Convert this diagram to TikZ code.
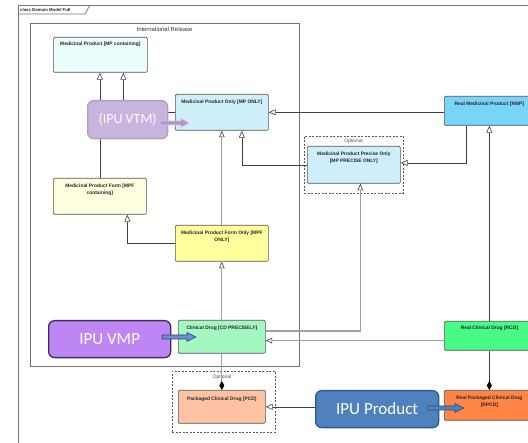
\documentclass[tikz,border=0pt]{standalone}
\usepackage{fontspec}
\setmainfont{Liberation Sans}
\newfontfamily\calfont{Carlito}
\usetikzlibrary{arrows.meta,calc}
\definecolor{cMPC}{HTML}{EAFCFC}
\definecolor{cMPO}{HTML}{CFEFFB}
\definecolor{cMPFC}{HTML}{FFFEE0}
\definecolor{cMPFO}{HTML}{FFFF9E}
\definecolor{cCD}{HTML}{A3F8C0}
\definecolor{cMPP}{HTML}{CDEEFA}
\definecolor{cRMP}{HTML}{79D5F7}
\definecolor{cRCD}{HTML}{47FB85}
\definecolor{cRPCD}{HTML}{FF8446}
\definecolor{cPCD}{HTML}{FFC3A3}
\definecolor{boxline}{HTML}{555555}
\definecolor{lineDark}{HTML}{404040}
\definecolor{lineGray}{HTML}{A0A0A0}
\definecolor{frameC}{HTML}{757575}
\definecolor{vtmFill}{HTML}{C8B4DC}
\definecolor{vtmLine}{HTML}{B49CCB}
\definecolor{vtmArrow}{HTML}{B393D0}
\definecolor{vtmArrowLine}{HTML}{D6C6E6}
\definecolor{vmpFill}{HTML}{BE86F5}
\definecolor{vmpLine}{HTML}{3E2A5C}
\definecolor{vmpArrow}{HTML}{6F8BD4}
\definecolor{vmpArrowLine}{HTML}{2F3E7A}
\definecolor{prodFill}{HTML}{4F81BD}
\definecolor{prodLine}{HTML}{2E5A8E}
\definecolor{prodArrowLine}{HTML}{2E4E7A}
\begin{document}
\begin{tikzpicture}[x=1pt,y=-1pt,
  umlbox/.style={draw=boxline, line width=0.7pt, rounded corners=1.2pt, anchor=north west, inner sep=0pt},
  btext/.style={font=\fontsize{4.9}{6.8}\selectfont\bfseries, text=black!85, align=center, anchor=north, inner sep=0pt},
  frame/.style={draw=frameC, line width=0.7pt},
  optbox/.style={draw=black!65, line width=0.6pt, dash pattern=on 2pt off 1.5pt, anchor=north west, inner sep=0pt},
  opttext/.style={font=\fontsize{4.9}{6}\selectfont, text=black!70, inner sep=0pt},
  gen/.style={draw=lineDark, line width=0.6pt, -{Triangle[length=7pt,width=6pt,fill=white]}},
  gengray/.style={draw=lineGray, line width=1.2pt, -{Triangle[length=6.5pt,width=5.5pt,fill=white,color=lineDark,line width=0.6pt]}},
  comp/.style={draw=lineGray, line width=1.2pt, -{Diamond[length=9pt,width=5pt,color=black]}},
  compdark/.style={draw=lineDark, line width=0.7pt, -{Diamond[length=9pt,width=5pt,color=black]}},
  ipu/.style={rounded corners=6pt, line width=1.3pt, anchor=north west, inner sep=0pt}
]
\useasboundingbox (0,0) rectangle (528,443);
\clip (0,0) rectangle (528,443);

% outer frame and tab
\draw[frame] (18,460) -- (18,5) -- (540,5);
\draw[frame] (18,14) -- (85,14) -- (90,5);
\node[anchor=west, inner sep=0pt, font=\fontsize{4.3}{5}\selectfont\bfseries, text=black!85] (tab) at (20,10) {class Domain Model Full};

% International Release
\node[frame, draw, anchor=north west, inner sep=0pt, minimum width=269pt, minimum height=343pt] (intl) at (30,23) {};
\node[inner sep=0pt, font=\fontsize{5.9}{7}\selectfont, text=black!80] (intlT) at (164.5,29.5) {International Release};

% optional boxes
\node[optbox, minimum width=99pt, minimum height=57pt] (opt1) at (304,136) {};
\node[opttext] (opt1T) at (353.5,141.5) {Optional};
\node[optbox, minimum width=103pt, minimum height=61pt] (opt2) at (172,371) {};
\node[opttext] (opt2T) at (222,377) {Optional};

% UML boxes
\node[umlbox, fill=cMPC, minimum width=94pt, minimum height=35pt] (mpc) at (53,37) {};
\node[umlbox, fill=cMPO, minimum width=93pt, minimum height=36pt] (mponly) at (175,94) {};
\node[umlbox, fill=cMPFC, minimum width=93pt, minimum height=36pt] (mpfc) at (53,178) {};
\node[umlbox, fill=cMPFO, minimum width=93pt, minimum height=36pt] (mpfonly) at (175,225) {};
\node[umlbox, fill=cCD, minimum width=87pt, minimum height=33pt] (cd) at (178,320) {};
\node[umlbox, fill=cMPP, minimum width=93pt, minimum height=37pt] (mpp) at (307,146) {};
\node[umlbox, fill=cRMP, minimum width=90pt, minimum height=29pt] (rmp) at (444,96) {};
\node[umlbox, fill=cRCD, minimum width=90pt, minimum height=29pt] (rcd) at (444,321) {};
\node[umlbox, fill=cRPCD, minimum width=90pt, minimum height=30pt] (rpcd) at (444,390) {};
\node[umlbox, fill=cPCD, minimum width=87pt, minimum height=33pt] (pcd) at (178,390) {};

% connectors
\draw[gen] (mpfc.north) -- (mpfc.north |- mpc.south);
\draw[gen] (mponly.west) -| ($(mpc.south)+(23,0)$);
\draw[gen] (mponly.east -| rmp.west) -- (mponly.east);
\draw[gengray] (mpfonly.north) -- (mponly.south);
\draw[gen] (mpp.west) -| ($(mponly.south)+(20,0)$);
\draw[gen] (mpfonly.west) -| ($(mpfc.south)+(27.5,0)$);
\draw[gengray] (cd.north) -- (mpfonly.south);
\draw[gengray] ($(cd.north east)+(0,11)$) -| ($(mpp.south)+(6.5,0)$);
\coordinate (cdR) at ($(cd.south east)+(0,-13)$);
\draw[gengray] (rcd.west |- cdR) -- (cdR);
\draw[gen] ($(rmp.south west)+(22,0)$) |- ($(mpp.east)+(0,-2)$);
\draw[gen] (rcd.north) -- (rcd.north |- rmp.south);
\draw[compdark] (rcd.south) -- (rpcd.north);
\draw[comp] (cd.south) -- (pcd.north);
\draw[gen] (rpcd.west |- pcd.east) -- (pcd.east);

% texts in boxes
\node[btext] (mpcT) at ($(mpc.north)+(0,5)$) {Medicinal Product [MP containing]};
\node[btext] (mponlyT) at ($(mponly.north)+(0,5.5)$) {Medicinal Product Only [MP ONLY]};
\node[btext] (mpfcT) at ($(mpfc.north)+(0,5.5)$) {Medicinal Product Form [MPF\\containing]};
\node[btext] (mpfonlyT) at ($(mpfonly.north)+(0,5.5)$) {Medicinal Product Form Only [MPF\\ONLY]};
\node[btext] (mppT) at ($(mpp.north)+(0,5.5)$) {Medicinal Product Precise Only\\{}[MP PRECISE ONLY]};
\node[btext] (cdT) at ($(cd.north)+(0,6)$) {Clinical Drug [CD PRECISELY]};
\node[btext] (pcdT) at ($(pcd.north)+(0,7)$) {Packaged Clinical Drug [PCD]};
\node[btext] (rmpT) at ($(rmp.north)+(0,6)$) {Real Medicinal Product [RMP]};
\node[btext] (rcdT) at ($(rcd.north)+(0,5)$) {Real Clinical Drug [RCD]};
\node[btext] (rpcdT) at ($(rpcd.north)+(0,5.5)$) {Real Packaged Clinical Drug\\{}[RPCD]};

% IPU shapes
\node[ipu, draw=vtmLine, fill=vtmFill, minimum width=80pt, minimum height=38pt] (vtm) at (87,100) {};
\node[font=\calfont\fontsize{14}{16}\selectfont, text=white!96!vtmFill] (vtmT) at (vtm.center) {(IPU VTM)};
\node[ipu, draw=vmpLine, fill=vmpFill, minimum width=122pt, minimum height=37pt] (vmp) at (48,320) {};
\node[font=\calfont\fontsize{17}{19}\selectfont, text=white] (vmpT) at (vmp.center) {IPU VMP};
\node[ipu, draw=prodLine, fill=prodFill, minimum width=123pt, minimum height=37pt] (prod) at (315,390) {};
\node[font=\calfont\fontsize{17}{19}\selectfont, text=white] (prodT) at (prod.center) {IPU Product};

% block arrows
\draw[fill=vtmArrow, draw=vtmArrowLine, line width=0.6pt]
  (160,121) -- (181,121) -- (181,118.5) -- (189,123) -- (181,127.5) -- (181,125) -- (160,125) -- cycle;
\draw[fill=vmpArrow, draw=vmpArrowLine, line width=0.6pt]
  (162,335) -- (187,335) -- (187,332.5) -- (196,337) -- (187,341.5) -- (187,339) -- (162,339) -- cycle;
\draw[fill=prodFill, draw=prodArrowLine, line width=0.6pt]
  (428,406) -- (455,406) -- (455,403.5) -- (464,408) -- (455,412.5) -- (455,410) -- (428,410) -- cycle;
\end{tikzpicture}
\end{document}
